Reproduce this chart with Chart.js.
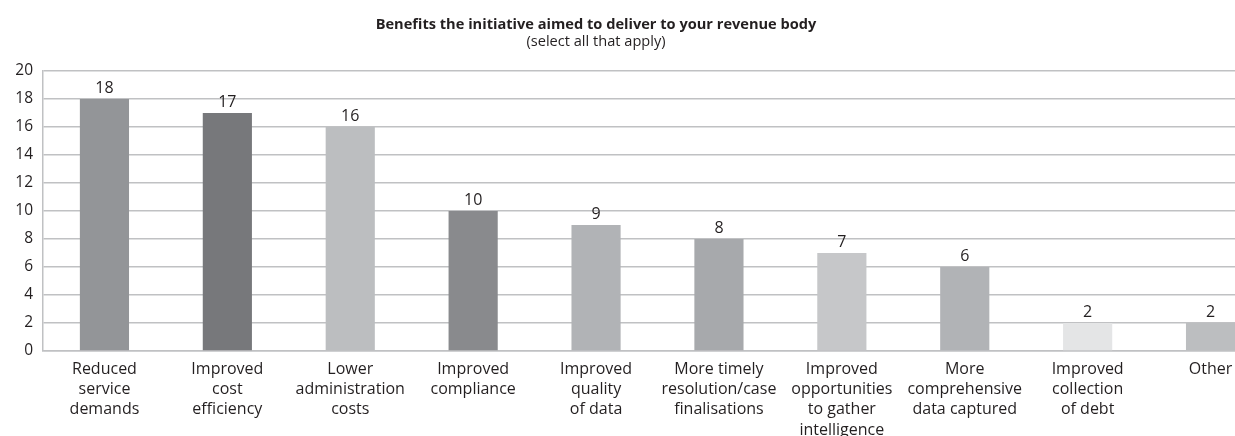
<!DOCTYPE html>
<html>
<head>
<meta charset="utf-8">
<script src="https://cdn.jsdelivr.net/npm/chart.js@4"></script>
<style>
  html, body { margin: 0; padding: 0; background: #fff; overflow: hidden; }
  #wrap { width: 1274px; height: 436px; position: relative; }
</style>
</head>
<body>
<div id="wrap"><canvas id="c"></canvas></div>
<script>
// Survey responses: benefits the initiative aimed to deliver
const categories = [
  ['Reduced', 'service', 'demands'],
  ['Improved', 'cost', 'efficiency'],
  ['Lower', 'administration', 'costs'],
  ['Improved', 'compliance'],
  ['Improved', 'quality', 'of data'],
  ['More timely', 'resolution/case', 'finalisations'],
  ['Improved', 'opportunities', 'to gather', 'intelligence'],
  ['More', 'comprehensive', 'data captured'],
  ['Improved', 'collection', 'of debt'],
  ['Other']
];
const responses = [18, 17, 16, 10, 9, 8, 7, 6, 2, 2];
const barColours = ['#939598', '#77787b', '#bcbec0', '#898a8d', '#b1b3b6',
                    '#a7a9ac', '#c6c7c9', '#b1b3b6', '#e4e5e6', '#bcbec0'];
const yTicks = [0, 2, 4, 6, 8, 10, 12, 14, 16, 18, 20];
const titleText = 'Benefits the initiative aimed to deliver to your revenue body';
const subtitleText = '(select all that apply)';

const FONT = '"Open Sans", "Noto Sans", sans-serif';
const INK = '#231f20';
const GRID = '#c0c1c3';

// Value labels above each bar
const valueLabels = {
  id: 'valueLabels',
  afterDatasetsDraw(chart) {
    const ctx = chart.ctx;
    const meta = chart.getDatasetMeta(0);
    ctx.save();
    ctx.font = '16px ' + FONT;
    ctx.fillStyle = INK;
    ctx.textAlign = 'center';
    ctx.textBaseline = 'alphabetic';
    meta.data.forEach((bar, i) => {
      ctx.fillText(String(responses[i]), bar.x, bar.y - 6);
    });
    ctx.restore();
  }
};

// Two-line heading
const heading = {
  id: 'heading',
  afterDraw(chart) {
    const ctx = chart.ctx;
    const cx = 596;
    ctx.save();
    ctx.fillStyle = INK;
    ctx.textAlign = 'center';
    ctx.textBaseline = 'alphabetic';
    ctx.font = 'bold 14.6px ' + FONT;
    ctx.fillText(titleText, cx, 29);
    ctx.font = '14.6px ' + FONT;
    ctx.fillText(subtitleText, cx, 46);
    ctx.restore();
  }
};

new Chart(document.getElementById('c'), {
  type: 'bar',
  data: {
    labels: categories,
    datasets: [{
      data: responses,
      backgroundColor: barColours,
      borderWidth: 0,
      barPercentage: 0.4,
      categoryPercentage: 1.0
    }]
  },
  options: {
    responsive: true,
    maintainAspectRatio: false,
    animation: false,
    devicePixelRatio: 1,
    layout: { padding: { top: 71, right: 2, left: 0, bottom: 0 } },
    plugins: {
      legend: { display: false },
      title: { display: false },
      tooltip: { enabled: false }
    },
    scales: {
      x: {
        grid: { display: false, drawTicks: false },
        border: { display: true, color: GRID, width: 1.5 },
        ticks: {
          color: INK,
          font: { family: FONT, size: 16, lineHeight: 1.27 },
          padding: 8,
          maxRotation: 0,
          autoSkip: false
        },
        afterFit(scale) { scale.height = 85; }
      },
      y: {
        min: 0,
        max: 20,
        afterBuildTicks(scale) { scale.ticks = yTicks.map(v => ({ value: v })); },
        grid: { color: GRID, lineWidth: 1.5, drawTicks: false },
        border: { display: true, color: GRID, width: 1.5 },
        ticks: {
          color: INK,
          font: { family: FONT, size: 15.5 },
          padding: 10
        },
        afterFit(scale) { scale.width = 43; }
      }
    }
  },
  plugins: [valueLabels, heading]
});
</script>
</body>
</html>
